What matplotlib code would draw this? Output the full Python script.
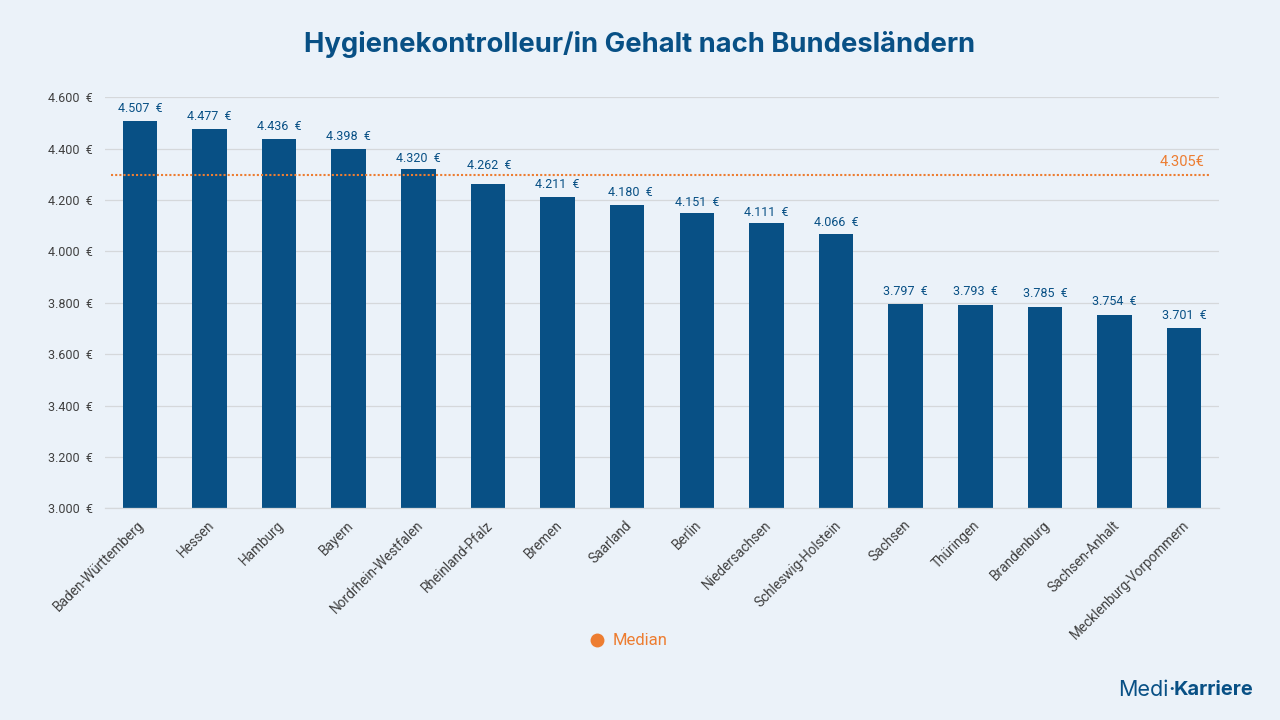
import matplotlib
matplotlib.use("Agg")
import matplotlib.pyplot as plt
from matplotlib.ticker import FuncFormatter
from matplotlib.transforms import ScaledTranslation

states = ["Baden-Württemberg", "Hessen", "Hamburg", "Bayern", "Nordrhein-Westfalen", "Rheinland-Pfalz",
          "Bremen", "Saarland", "Berlin", "Niedersachsen", "Schleswig-Holstein", "Sachsen", "Thüringen",
          "Brandenburg", "Sachsen-Anhalt", "Mecklenburg-Vorpommern"]
salaries = [4507, 4477, 4436, 4398, 4320, 4262, 4211, 4180, 4151, 4111, 4066, 3797, 3793, 3785, 3754, 3701]
median_drawn = 4297
median_label = "4.305€"
y_ticks = [3000, 3200, 3400, 3600, 3800, 4000, 4200, 4400, 4600]

BG = "#EBF2F9"
BLUE = "#085085"
ORANGE = "#ED7D31"
W, H = 1280, 720
plt.rcParams['font.family'] = ['Roboto', 'DejaVu Sans']

# hand-placed label shifts in the reference (state index -> dx, dy in points)
label_nudge = {4: (0, -1.5), 5: (0.7, 4.5), 7: (2, 0), 8: (0, -2), 9: (0, -2), 10: (0, -0.7), 11: (0, -0.7)}

def euro(v):
    return f"{v:,.0f}".replace(",", ".") + "  €"

fig = plt.figure(figsize=(W/100, H/100), dpi=100, facecolor=BG)
ax = fig.add_axes([105/W, 1-508.4/H, (1219-105)/W, (508.4-97.2)/H], facecolor=BG)
xs = list(range(len(states)))
ax.bar(xs, salaries, width=0.495, color=BLUE, zorder=2)
ax.set_xlim(-0.5, 15.5)
ax.set_ylim(3000, 4600)
ax.set_yticks(y_ticks)
ax.yaxis.set_major_formatter(FuncFormatter(lambda v, p: euro(v)))
ax.set_xticks(xs)
ax.set_xticklabels(states, rotation=45, ha="right", rotation_mode="anchor", fontsize=9.8, color="#404040")
ax.tick_params(axis="x", length=0, pad=7)
ax.tick_params(axis="y", length=0, pad=9, labelsize=9, labelcolor="#404040")
ax.grid(axis="y", color="#D5D8DB", lw=0.9, zorder=1)
ax.set_axisbelow(True)
for s in ("top", "right", "left"):
    ax.spines[s].set_visible(False)
ax.spines["bottom"].set_color("#D5D8DB")
ax.spines["bottom"].set_linewidth(0.9)
shift = ScaledTranslation(-2.5/100, 0, fig.dpi_scale_trans)
for lbl in ax.get_xticklabels():
    lbl.set_transform(lbl.get_transform() + shift)

for i, (x, v) in enumerate(zip(xs, salaries)):
    dx, dy = label_nudge.get(i, (0, 0))
    ax.annotate(euro(v), (x, v), xytext=(dx, 4.5 + dy), textcoords="offset points", ha="center", va="bottom",
                fontsize=9, color=BLUE, zorder=4)

ax.plot([-0.42, 15.36], [median_drawn, median_drawn], color=ORANGE, lw=1.5, ls=(0, (1, 1)), zorder=3)
ax.annotate(median_label, (15.36, median_drawn), xytext=(-3.5, 4.5), textcoords="offset points",
            ha="right", va="bottom", fontsize=10.5, color=ORANGE)

fig.text(640/W, 1-44/H, "Hygienekontrolleur/in Gehalt nach Bundesländern", ha="center", va="center",
         fontsize=19.7, fontweight="bold", color=BLUE, family=["Inter", "DejaVu Sans"])

fig.add_artist(plt.Line2D([596.5/W], [1-640/H], marker="o", ms=10, color=ORANGE, mew=0, ls="none"))
fig.text(613/W, 1-640.5/H, "Median", ha="left", va="center", fontsize=12, color=ORANGE)

fig.text(1118/W, 1-690/H, "Medi", ha="left", va="center", fontsize=15.5, color=BLUE,
         family=["Inter", "DejaVu Sans"])
fig.text(1168/W, 1-690/H, "·", ha="left", va="center", fontsize=14, color=BLUE, fontweight="bold",
         family=["Inter", "DejaVu Sans"])
fig.text(1174/W, 1-690/H, "Karriere", ha="left", va="center", fontsize=14.4, color=BLUE, fontweight="bold",
         family=["Inter", "DejaVu Sans"])

fig.savefig("out.png", dpi=100, facecolor=BG)
